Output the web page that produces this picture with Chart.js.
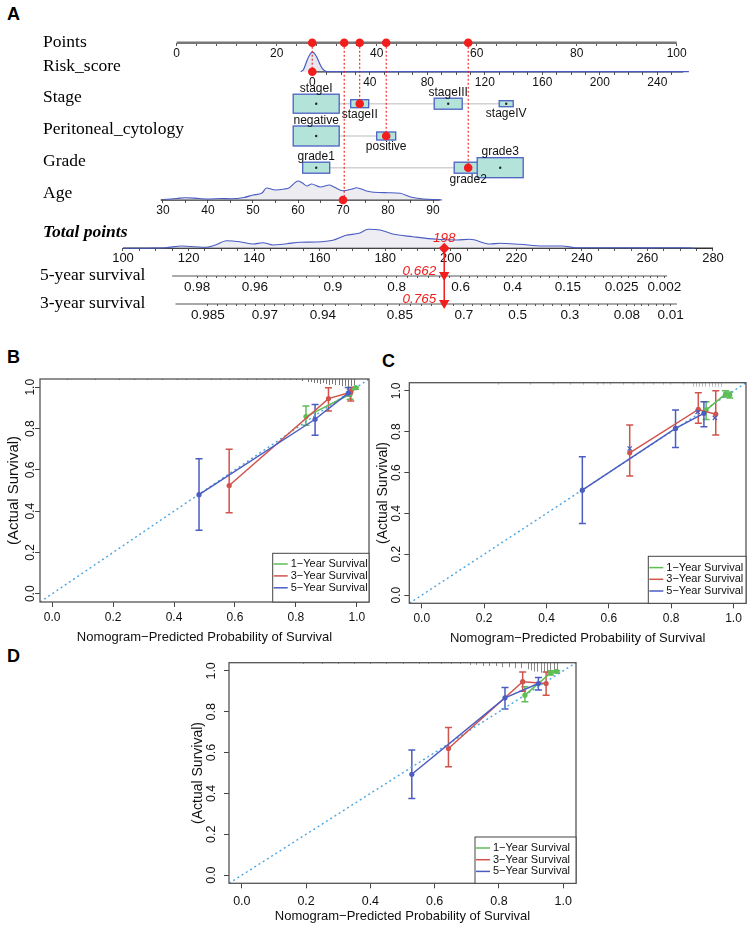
<!DOCTYPE html>
<html>
<head>
<meta charset="utf-8">
<script src="https://cdn.jsdelivr.net/npm/chart.js@4.4.1/dist/chart.umd.min.js"></script>
<style>
html,body{margin:0;padding:0;background:#fff;}
body{position:relative;width:753px;height:941px;overflow:hidden;font-family:"Liberation Sans",Arial,sans-serif;}
canvas{position:absolute;display:block;}
.plab{position:absolute;font-weight:bold;font-size:18px;line-height:20px;color:#000;}
</style>
</head>
<body>
<div class="plab" style="left:7px;top:4px">A</div>
<div class="plab" style="left:7px;top:347px">B</div>
<div class="plab" style="left:382px;top:351px">C</div>
<div class="plab" style="left:7px;top:646px">D</div>
<canvas id="cA" width="753" height="330" style="left:0;top:0"></canvas>
<canvas id="cB" width="376" height="310" style="left:0;top:340px"></canvas>
<canvas id="cC" width="383" height="310" style="left:370px;top:340px"></canvas>
<canvas id="cD" width="400" height="300" style="left:189px;top:625px"></canvas>
<script>
const SANS = '"Liberation Sans", Arial, Helvetica, sans-serif';
const SERIF = '"Liberation Serif", "Times New Roman", Times, serif';

// ================= DATA : panel A (nomogram) =================
const pointsTicks = [0, 20, 40, 60, 80, 100];
const riskTicks = [0, 40, 80, 120, 160, 200, 240];
const ageTicks = [30, 40, 50, 60, 70, 80, 90];
const totalTicks = [100, 120, 140, 160, 180, 200, 220, 240, 260, 280];
const surv5Labels = ['0.98', '0.96', '0.9', '0.8', '0.6', '0.4', '0.15', '0.025', '0.002'];
const surv5AtTotal = [122.6, 140.2, 164, 183.5, 203, 218.9, 235.7, 252.1, 265.2];
const surv3Labels = ['0.985', '0.97', '0.94', '0.85', '0.7', '0.5', '0.3', '0.08', '0.01'];
const surv3AtTotal = [125.9, 143.3, 161, 184.5, 204, 220.4, 236.3, 253.7, 267.1];
const riskRange = [0, 258];
const ageRange = [29.5, 91.5];
const totalRange = [100, 280];
const surv5Range = [115, 266];
const surv3Range = [116, 269];

const rowLabels = ['Points', 'Risk_score', 'Stage', 'Peritoneal_cytology', 'Grade', 'Age'];
const stageCats = ['stageI', 'stageII', 'stageIII', 'stageIV'];
const stagePoints = [27.9, 36.6, 54.3, 65.9];
const cytoCats = ['negative', 'positive'];
const cytoPoints = [27.9, 41.9];
const gradeCats = ['grade1', 'grade2', 'grade3'];
const gradePoints = [27.9, 58.3, 64.7];

const riskDensX = [-8, -6, -4, -2, 0, 1, 3, 5, 7, 9, 12, 262];
const riskDensH = [0, 2.5, 10, 16.5, 19.5, 19, 15, 8.5, 3, 0.6, 0, 0];
const ageDensX = [30, 33, 35, 38, 40, 43, 45, 48, 50, 52, 53, 55, 57, 58, 60, 61, 62, 63, 65, 67, 68, 70, 72, 73, 75, 76, 78, 80, 82.7, 85, 88, 91, 92];
const ageDensH = [0.5, 1.5, 2.3, 1.5, 1, 1.5, 1.3, 2.5, 5, 7, 12, 10, 11, 12, 19, 17, 14, 16, 13, 15, 13, 9.3, 11, 12.3, 9.3, 8.3, 7.5, 7.3, 6.7, 3, 1, 0.3, 0];
const totalDensX = [100, 110, 113, 118, 122, 125.5, 128, 131.6, 135.6, 139.7, 142.7, 145.7, 150, 154, 159, 164, 168, 172, 174.8, 178.4, 182.3, 188.4, 195.7, 201.8, 205.8, 212, 215, 221, 228, 234, 238.4, 246.4, 260, 270.7, 274.4];
const totalDensH = [0, 0.3, 0.6, 2.3, 1.5, 1, 3, 7.6, 6.6, 4.3, 5.6, 3.3, 4.6, 6, 6.3, 8, 13, 15, 19, 18.3, 14.3, 11.6, 9, 8.3, 9, 4.3, 5, 4, 2.3, 2.3, 0.6, 0.6, 0.4, 0.6, 0];

const selRisk = 0, selAge = 70, selStageIdx = 1, selCytoIdx = 1, selGradeIdx = 1;
const selPointsRisk = 27.1, selPointsAge = 33.5;
const selTotal = 198;
const selSurv5 = '0.662', selSurv3 = '0.765';

// ================= DATA : calibration panels =================
const calibTicks = [0, 0.2, 0.4, 0.6, 0.8, 1.0];
const seriesNames = ['1\u2212Year Survival', '3\u2212Year Survival', '5\u2212Year Survival'];

const B_pred1 = [0.833, 0.978, 0.996], B_obs1 = [0.858, 0.966, 0.998], B_lo1 = [0.816, 0.942, 0.99], B_hi1 = [0.909, 0.99, 1.0];
const B_pred3 = [0.581, 0.907, 0.98], B_obs3 = [0.524, 0.945, 0.976], B_lo3 = [0.392, 0.885, 0.934], B_hi3 = [0.70, 0.998, 0.999];
const B_pred5 = [0.482, 0.863, 0.972], B_obs5 = [0.48, 0.845, 0.972], B_lo5 = [0.307, 0.768, 0.958], B_hi5 = [0.654, 0.917, 0.999];
const B_rugX = [0.05, 0.14, 0.22, 0.27, 0.31, 0.36, 0.41, 0.44, 0.48, 0.52, 0.55, 0.58, 0.61, 0.64, 0.67, 0.7, 0.72, 0.74, 0.76, 0.78, 0.8, 0.82, 0.84, 0.85, 0.86, 0.87, 0.88, 0.89, 0.9, 0.91, 0.92, 0.93, 0.94, 0.95, 0.96, 0.97, 0.98, 0.99];
const B_rugN = [1, 1, 1, 1, 1, 1, 1, 1, 1, 1, 1, 1, 1, 1, 1, 1, 1, 1, 1, 1, 1, 2, 3, 3, 4, 4, 5, 4, 5, 6, 5, 6, 6, 7, 7, 8, 7, 6];

const C_pred1 = [0.912, 0.974, 0.988], C_obs1 = [0.906, 0.984, 0.98], C_lo1 = [0.86, 0.97, 0.965], C_hi1 = [0.947, 1.0, 0.995];
const C_pred3 = [0.667, 0.887, 0.943], C_obs3 = [0.697, 0.909, 0.886], C_lo3 = [0.583, 0.841, 0.784], C_hi3 = [0.833, 0.991, 1.0];
const C_pred5 = [0.515, 0.814, 0.905], C_obs5 = [0.514, 0.816, 0.89], C_lo5 = [0.351, 0.723, 0.824], C_hi5 = [0.677, 0.906, 0.947];
const C_corrX = [0.667, 0.885, 0.94], C_corrY = [0.718, 0.897, 0.868];
const C_rugX = [0.245, 0.347, 0.422, 0.475, 0.518, 0.561, 0.582, 0.604, 0.646, 0.678, 0.71, 0.742, 0.775, 0.796, 0.839, 0.87, 0.88, 0.89, 0.9, 0.91, 0.92, 0.93, 0.94, 0.95, 0.96];
const C_rugN = [1, 1, 1, 1, 1, 1, 1, 1, 1, 1, 1, 1, 1, 1, 1, 2, 2, 2, 2, 2, 2, 2, 2, 2, 2];

const D_pred1 = [0.881, 0.961, 0.98], D_obs1 = [0.881, 0.99, 0.998], D_lo1 = [0.849, 0.98, 0.99], D_hi1 = [0.922, 1.0, 1.0];
const D_pred3 = [0.643, 0.874, 0.947], D_obs3 = [0.62, 0.947, 0.938], D_lo3 = [0.53, 0.9, 0.881], D_hi3 = [0.723, 0.995, 0.995];
const D_pred5 = [0.529, 0.819, 0.923], D_obs5 = [0.494, 0.868, 0.938], D_lo5 = [0.375, 0.813, 0.906], D_hi5 = [0.612, 0.919, 0.968];
const D_rugX = [0.19, 0.25, 0.3, 0.35, 0.4, 0.45, 0.5, 0.55, 0.58, 0.62, 0.65, 0.68, 0.71, 0.73, 0.75, 0.77, 0.79, 0.81, 0.83, 0.85, 0.87, 0.89, 0.9, 0.91, 0.92, 0.93, 0.94, 0.95, 0.96, 0.97, 0.98];
const D_rugN = [1, 1, 1, 1, 1, 1, 1, 1, 1, 1, 1, 1, 2, 2, 3, 3, 3, 4, 4, 5, 5, 6, 7, 8, 8, 9, 9, 10, 9, 8, 6];

// ================= LAYOUT / STYLE =================
Chart.defaults.font.family = SANS;
const WA = 753, HA = 330;
const ROW = {points: 42.7, risk: 71.7, stage: 103.7, cyto: 136, grade: 167.7, age: 200, total: 248.3, s5: 276, s3: 304};
const ANCHOR = {pts: [0, 176.7, 100, 676.7], risk: [0, 312.3, 240, 657.3], age: [30, 163, 90, 433], tot: [100, 123, 280, 713]};
const RED = '#f21d1d';
const DENS_LINE = '#4a5cc4';

function spanFor(a) { const [v1, p1, v2, p2] = a; const k = (p2 - p1) / (v2 - v1); return {min: v1 - p1 / k, max: v1 + (WA - p1) / k}; }
function steps(a, b, s) { const r = []; for (let v = a; v <= b + 1e-9; v += s) r.push(+v.toFixed(6)); return r; }
function subdiv(arr, n) { const out = []; for (let i = 0; i < arr.length - 1; i++) { for (let j = 0; j < n; j++) out.push(j === 0 ? arr[i] : arr[i] + (arr[i + 1] - arr[i]) * j / n); } out.push(arr[arr.length - 1]); return out; }

function nomoAxis(anchor, rowY, allVals, labelOf, fontSize, tickLen, pad) {
  const r = spanFor(anchor);
  return {
    type: 'linear', axis: 'x', position: {y: rowY}, min: r.min, max: r.max,
    afterBuildTicks(s) { s.ticks = allVals.map(v => ({value: v})); },
    ticks: {autoSkip: false, minRotation: 0, maxRotation: 0, padding: pad, color: '#111', font: {family: SANS, size: fontSize}, callback: (v) => labelOf(v)},
    grid: {drawOnChartArea: false, drawTicks: true, tickLength: tickLen, color: '#555', lineWidth: 1},
    border: {display: false}
  };
}

const ptsAll = steps(0, 100, 4);
const riskAll = steps(0, 250, 10);
const ageAll = steps(30, 90, 5);
const totAll = steps(100, 280, 5);
const s5All = subdiv(surv5AtTotal, 6);
const s3All = subdiv(surv3AtTotal, 6);
const s5Map = new Map(surv5AtTotal.map((v, i) => [v, surv5Labels[i]]));
const s3Map = new Map(surv3AtTotal.map((v, i) => [v, surv3Labels[i]]));

const catRows = [
  {cats: stageCats, pts: stagePoints, y: ROW.stage, w: [46, 18, 28, 14], h: [19, 8, 11, 6], above: [true, false, true, false], sel: selStageIdx},
  {cats: cytoCats, pts: cytoPoints, y: ROW.cyto, w: [46, 19], h: [20, 8], above: [true, false], sel: selCytoIdx},
  {cats: gradeCats, pts: gradePoints, y: ROW.grade, w: [27, 28, 46], h: [11, 11, 20], above: [true, false, true], sel: selGradeIdx}
];

const P = (x, y) => ({x, y});
const dsA = [];
function add(o) { dsA.push(Object.assign({type: 'line', pointRadius: 0, borderWidth: 1, fill: false, yAxisID: 'y'}, o)); }

// axis lines
add({xAxisID: 'x', data: [P(pointsTicks[0], ROW.points), P(pointsTicks[pointsTicks.length - 1], ROW.points)], borderColor: '#777', borderWidth: 2.6, order: 50});
add({xAxisID: 'xRisk', data: [P(riskRange[0], ROW.risk), P(riskRange[1], ROW.risk)], borderColor: '#333', borderWidth: 1.4, order: 50});
add({xAxisID: 'xAge', data: [P(ageRange[0], ROW.age), P(ageRange[1], ROW.age)], borderColor: '#333', borderWidth: 1.4, order: 50});
add({xAxisID: 'xTot', data: [P(totalRange[0], ROW.total), P(totalRange[1], ROW.total)], borderColor: '#333', borderWidth: 1.4, order: 50});
add({xAxisID: 'xTot', data: [P(surv5Range[0], ROW.s5), P(surv5Range[1], ROW.s5)], borderColor: '#555', borderWidth: 1, order: 50});
add({xAxisID: 'xTot', data: [P(surv3Range[0], ROW.s3), P(surv3Range[1], ROW.s3)], borderColor: '#555', borderWidth: 1, order: 50});
// densities
add({xAxisID: 'xRisk', data: riskDensX.map((v, i) => P(v, ROW.risk - riskDensH[i])), borderColor: DENS_LINE, borderWidth: 1.2, fill: {value: ROW.risk}, backgroundColor: 'rgba(205,205,225,0.45)', cubicInterpolationMode: 'monotone', order: 40});
add({xAxisID: 'xAge', data: ageDensX.map((v, i) => P(v, ROW.age - ageDensH[i])), borderColor: DENS_LINE, borderWidth: 1.1, fill: {value: ROW.age}, backgroundColor: 'rgba(215,215,225,0.45)', cubicInterpolationMode: 'monotone', order: 40});
add({xAxisID: 'xTot', data: totalDensX.map((v, i) => P(v, ROW.total - totalDensH[i])), borderColor: DENS_LINE, borderWidth: 1.1, fill: {value: ROW.total}, backgroundColor: 'rgba(215,215,228,0.45)', cubicInterpolationMode: 'monotone', order: 40});
// red dotted verticals from each selected value up to the Points axis
const selRowsPts = [
  [selPointsRisk, ROW.risk],
  [stagePoints[selStageIdx], ROW.stage],
  [cytoPoints[selCytoIdx], ROW.cyto],
  [gradePoints[selGradeIdx], ROW.grade],
  [selPointsAge, ROW.age]
];
selRowsPts.forEach(([p, yy]) => add({xAxisID: 'x', data: [P(p, ROW.points), P(p, yy)], borderColor: RED, borderWidth: 1.1, borderDash: [2, 2], order: 20}));
// red dots on Points axis
add({type: 'scatter', xAxisID: 'x', data: selRowsPts.map(([p]) => P(p, ROW.points)), showLine: false, pointRadius: 4.3, backgroundColor: RED, borderWidth: 0, order: 5});
// red dots on the variable rows
add({type: 'scatter', xAxisID: 'xRisk', data: [P(selRisk, ROW.risk)], showLine: false, pointRadius: 4.3, backgroundColor: RED, borderWidth: 0, order: 5});
add({type: 'scatter', xAxisID: 'xAge', data: [P(selAge, ROW.age)], showLine: false, pointRadius: 4.3, backgroundColor: RED, borderWidth: 0, order: 5});
add({type: 'scatter', xAxisID: 'x', data: catRows.map(r => P(r.pts[r.sel], r.y)), showLine: false, pointRadius: 4.3, backgroundColor: RED, borderWidth: 0, order: 5});
// total points -> survival
add({xAxisID: 'xTot', data: [P(selTotal, ROW.total), P(selTotal, ROW.s3)], borderColor: RED, borderWidth: 1.5, order: 8});
add({type: 'scatter', xAxisID: 'xTot', data: [P(selTotal, ROW.total)], showLine: false, pointStyle: 'rectRot', pointRadius: 5.5, backgroundColor: RED, borderWidth: 0, order: 4});
add({type: 'scatter', xAxisID: 'xTot', data: [P(selTotal, ROW.s5 - 1), P(selTotal, ROW.s3 - 1)], showLine: false, pointStyle: 'triangle', rotation: 180, pointRadius: 6, backgroundColor: RED, borderWidth: 0, order: 4});

const nomoPlugin = {
  id: 'nomo',
  beforeDatasetsDraw(chart) {
    const ctx = chart.ctx, x = chart.scales.x, y = chart.scales.y;
    ctx.save();
    catRows.forEach(r => {
      const yc = y.getPixelForValue(r.y);
      const xs = r.pts.map(p => x.getPixelForValue(p));
      ctx.strokeStyle = '#d2d2d2'; ctx.lineWidth = 1.6;
      ctx.beginPath(); ctx.moveTo(Math.min(...xs), yc); ctx.lineTo(Math.max(...xs), yc); ctx.stroke();
      xs.forEach((px, i) => {
        const w = r.w[i], h = r.h[i];
        ctx.fillStyle = '#b4e3da'; ctx.fillRect(px - w / 2, yc - h / 2, w, h);
        ctx.strokeStyle = '#4b61c2'; ctx.lineWidth = 1.3; ctx.strokeRect(px - w / 2, yc - h / 2, w, h);
        if (i !== r.sel) { ctx.fillStyle = '#222'; ctx.beginPath(); ctx.arc(px, yc, 1.2, 0, Math.PI * 2); ctx.fill(); }
      });
    });
    ctx.restore();
  },
  afterDatasetsDraw(chart) {
    const ctx = chart.ctx, x = chart.scales.x, y = chart.scales.y, xt = chart.scales.xTot;
    ctx.save();
    ctx.fillStyle = '#111'; ctx.font = '12px ' + SANS; ctx.textAlign = 'center';
    catRows.forEach(r => {
      const yc = y.getPixelForValue(r.y);
      r.cats.forEach((c, i) => {
        const px = x.getPixelForValue(r.pts[i]);
        if (r.above[i]) { ctx.textBaseline = 'alphabetic'; ctx.fillText(c, px, yc - r.h[i] / 2 - 2.5); }
        else { ctx.textBaseline = 'top'; ctx.fillText(c, px, yc + r.h[i] / 2 + 0.5); }
      });
    });
    ctx.textAlign = 'left'; ctx.textBaseline = 'alphabetic'; ctx.fillStyle = '#000';
    ctx.font = '17.5px ' + SERIF;
    const rowBase = [46.6, 70.9, 102.3, 134.3, 165.6, 198.3];
    rowLabels.forEach((t, i) => ctx.fillText(t, 43, rowBase[i]));
    ctx.font = 'italic bold 17.5px ' + SERIF;
    ctx.fillText('Total points', 43, 237);
    ctx.font = '17.5px ' + SERIF;
    ctx.fillText('5-year survival', 40, 280);
    ctx.fillText('3-year survival', 40, 307.5);
    const tx = xt.getPixelForValue(selTotal);
    ctx.fillStyle = RED; ctx.font = 'italic 13.5px ' + SANS;
    ctx.textAlign = 'center'; ctx.fillText(String(selTotal), tx, 242);
    ctx.textAlign = 'right';
    ctx.fillText(selSurv5, tx - 8, 275);
    ctx.fillText(selSurv3, tx - 8, 302.7);
    ctx.restore();
  }
};

new Chart(document.getElementById('cA'), {
  type: 'scatter',
  data: {datasets: dsA},
  options: {
    responsive: false, animation: false, events: [], layout: {padding: 0, autoPadding: false},
    plugins: {legend: {display: false}, tooltip: {enabled: false}},
    scales: {
      y: {type: 'linear', min: 0, max: HA, reverse: true, display: false},
      x: nomoAxis(ANCHOR.pts, ROW.points, ptsAll, v => pointsTicks.includes(v) ? String(v) : '', 12, 3, 1),
      xRisk: nomoAxis(ANCHOR.risk, ROW.risk, riskAll, v => riskTicks.includes(v) ? String(v) : '', 12, 3, 1),
      xAge: nomoAxis(ANCHOR.age, ROW.age, ageAll, v => ageTicks.includes(v) ? String(v) : '', 12, 3, 0),
      xTot: nomoAxis(ANCHOR.tot, ROW.total, totAll, v => totalTicks.includes(v) ? String(v) : '', 13, 3, -1),
      xS5: nomoAxis(ANCHOR.tot, ROW.s5, s5All, v => s5Map.has(v) ? s5Map.get(v) : '', 13.5, 2, 1),
      xS3: nomoAxis(ANCHOR.tot, ROW.s3, s3All, v => s3Map.has(v) ? s3Map.get(v) : '', 13.5, 2, 1)
    }
  },
  plugins: [nomoPlugin]
});

// ================= calibration panels =================
const COL = {g: '#5fbd55', r: '#d0544c', b: '#4b5dc0'};

function calibChart(id, S, L) {
  const series = [
    {x: S.p1, y: S.o1, lo: S.l1, hi: S.h1, color: COL.g, order: 3},
    {x: S.p3, y: S.o3, lo: S.l3, hi: S.h3, color: COL.r, order: 2},
    {x: S.p5, y: S.o5, lo: S.l5, hi: S.h5, color: COL.b, order: 1}
  ];
  const ds = [];
  ds.push({type: 'line', data: [P(-0.04, -0.04), P(1.04, 1.04)], borderColor: '#4aa5e2', borderWidth: 1.4, borderDash: [2, 3], pointRadius: 0, order: 6});
  series.forEach(s => ds.push({type: 'line', data: s.x.map((v, i) => P(v, s.y[i])), borderColor: s.color, backgroundColor: s.color, borderWidth: 1.5, pointRadius: 2.6, pointBorderWidth: 0, order: s.order}));
  if (S.cx) ds.push({type: 'scatter', data: S.cx.map((v, i) => P(v, S.cy[i])), pointStyle: 'crossRot', pointRadius: 3, borderColor: COL.b, borderWidth: 1.2, order: 0});

  const plug = {
    id: 'calib_' + id,
    beforeDatasetsDraw(chart) {
      const {ctx, chartArea: ca, scales: {x, y}} = chart;
      ctx.save();
      ctx.strokeStyle = L.rugColor; ctx.lineWidth = 1;
      S.rugX.forEach((v, i) => {
        const px = Math.round(x.getPixelForValue(v)) + 0.5;
        ctx.beginPath(); ctx.moveTo(px, ca.top); ctx.lineTo(px, ca.top + S.rugN[i] * L.rugUnit); ctx.stroke();
      });
      series.forEach(s => {
        ctx.strokeStyle = s.color; ctx.lineWidth = 1.5;
        s.x.forEach((v, i) => {
          const px = x.getPixelForValue(v), a = y.getPixelForValue(s.lo[i]), b = y.getPixelForValue(s.hi[i]);
          ctx.beginPath();
          ctx.moveTo(px, a); ctx.lineTo(px, b);
          ctx.moveTo(px - 3.5, a); ctx.lineTo(px + 3.5, a);
          ctx.moveTo(px - 3.5, b); ctx.lineTo(px + 3.5, b);
          ctx.stroke();
        });
      });
      ctx.restore();
    },
    afterDraw(chart) {
      const {ctx, chartArea: ca} = chart;
      ctx.save();
      ctx.strokeStyle = '#555'; ctx.lineWidth = 1.3;
      ctx.strokeRect(ca.left, ca.top, ca.right - ca.left, ca.bottom - ca.top);
      const lx = ca.right - L.legW, ly = ca.bottom - L.legH;
      ctx.fillStyle = '#fff'; ctx.fillRect(lx, ly, L.legW, L.legH);
      ctx.strokeStyle = '#444'; ctx.lineWidth = 1; ctx.strokeRect(lx, ly, L.legW, L.legH);
      ctx.font = L.legFont + 'px ' + SANS; ctx.textBaseline = 'middle'; ctx.textAlign = 'left';
      [COL.g, COL.r, COL.b].forEach((c, i) => {
        const yy = ly + L.legY0 + i * L.legStep;
        ctx.strokeStyle = c; ctx.lineWidth = 1.5;
        ctx.beginPath(); ctx.moveTo(lx + 1, yy); ctx.lineTo(lx + 15, yy); ctx.stroke();
        ctx.fillStyle = '#111'; ctx.fillText(seriesNames[i], lx + 18, yy);
      });
      ctx.restore();
    }
  };

  const axisCommon = () => ({
    type: 'linear', min: -0.04, max: 1.04,
    afterBuildTicks(s) { s.ticks = calibTicks.map(v => ({value: v})); },
    grid: {drawOnChartArea: false, drawTicks: true, tickLength: 5, color: '#444', lineWidth: 1},
    border: {display: false}
  });

  new Chart(document.getElementById(id), {
    type: 'scatter',
    data: {datasets: ds},
    options: {
      responsive: false, animation: false, events: [],
      layout: {padding: {left: 0, top: L.padT, right: L.padR, bottom: 0}, autoPadding: false},
      plugins: {legend: {display: false}, tooltip: {enabled: false}},
      scales: {
        x: Object.assign(axisCommon(), {
          position: 'bottom',
          afterFit(s) { s.height = L.xH; },
          ticks: {autoSkip: false, maxRotation: 0, minRotation: 0, padding: L.xTickPad, color: '#111', font: {family: SANS, size: L.tickFont}, callback: v => (+v).toFixed(1)},
          title: {display: true, text: 'Nomogram\u2212Predicted Probability of Survival', color: '#111', font: {family: SANS, size: L.xTitleFont}, padding: {top: 0, bottom: L.xTitlePad}}
        }),
        y: Object.assign(axisCommon(), {
          position: 'left',
          afterFit(s) { s.width = L.yW; },
          ticks: {autoSkip: false, minRotation: 90, maxRotation: 90, crossAlign: 'center', padding: L.yTickPad, color: '#111', font: {family: SANS, size: L.tickFont}, callback: v => (+v).toFixed(1)},
          title: {display: true, text: '(Actual Survival)', color: '#111', font: {family: SANS, size: L.yTitleFont}, padding: {top: L.yTitlePad, bottom: 0}}
        })
      }
    },
    plugins: [plug]
  });
}

calibChart('cB',
  {p1: B_pred1, o1: B_obs1, l1: B_lo1, h1: B_hi1, p3: B_pred3, o3: B_obs3, l3: B_lo3, h3: B_hi3, p5: B_pred5, o5: B_obs5, l5: B_lo5, h5: B_hi5, rugX: B_rugX, rugN: B_rugN},
  {padT: 39, padR: 7, yW: 40, xH: 48, tickFont: 12, xTickPad: 3, yTickPad: -4.3, xTitleFont: 13, xTitlePad: 5.2, yTitleFont: 15, yTitlePad: 5, legW: 96.3, legH: 48.7, legY0: 10.7, legStep: 11.9, legFont: 11, rugColor: '#777', rugUnit: 1});
calibChart('cC',
  {p1: C_pred1, o1: C_obs1, l1: C_lo1, h1: C_hi1, p3: C_pred3, o3: C_obs3, l3: C_lo3, h3: C_hi3, p5: C_pred5, o5: C_obs5, l5: C_lo5, h5: C_hi5, rugX: C_rugX, rugN: C_rugN, cx: C_corrX, cy: C_corrY},
  {padT: 42.7, padR: 7, yW: 39.3, xH: 46.7, tickFont: 12, xTickPad: 3, yTickPad: -0.75, xTitleFont: 13, xTitlePad: 3.9, yTitleFont: 14, yTitlePad: 4.6, legW: 97.7, legH: 47, legY0: 11.3, legStep: 11.7, legFont: 11, rugColor: '#bbb', rugUnit: 2});
calibChart('cD',
  {p1: D_pred1, o1: D_obs1, l1: D_lo1, h1: D_hi1, p3: D_pred3, o3: D_obs3, l3: D_lo3, h3: D_hi3, p5: D_pred5, o5: D_obs5, l5: D_lo5, h5: D_hi5, rugX: D_rugX, rugN: D_rugN},
  {padT: 37.7, padR: 13, yW: 40, xH: 41.7, tickFont: 12.5, xTickPad: 5.9, yTickPad: 3.3, xTitleFont: 13, xTitlePad: 0.5, yTitleFont: 14, yTitlePad: 0.9, legW: 101, legH: 46.3, legY0: 11, legStep: 11.7, legFont: 11, rugColor: '#888', rugUnit: 1.1});
</script>
</body>
</html>
